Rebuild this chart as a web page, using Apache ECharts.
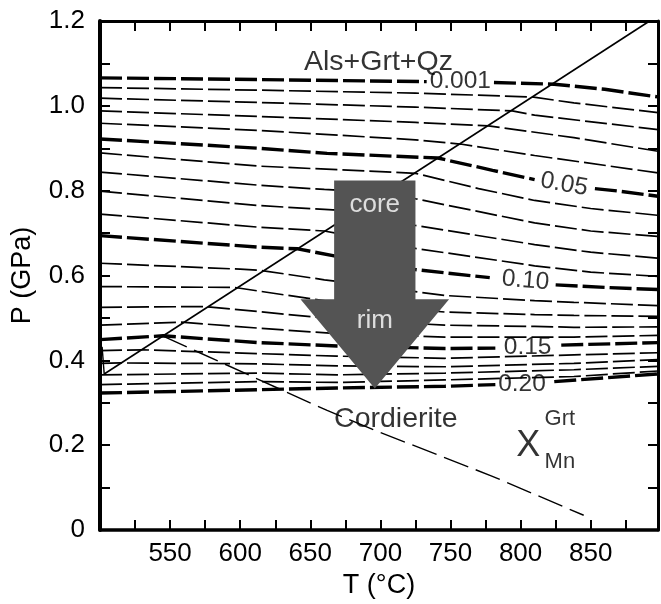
<!DOCTYPE html>
<html>
<head>
<meta charset="utf-8">
<script src="https://cdn.jsdelivr.net/npm/echarts@6/dist/echarts.min.js"></script>
<style>html,body{margin:0;padding:0;background:#fff}#c{width:661px;height:604px}</style>
</head>
<body>
<div id="c"></div>
<script>
// ---- Data: X_Mn(Grt) isopleths, P (GPa) vs T (°C); null = gap for label ----
const iso_0_001 = [[500,1.066],[613,1.062],[733,1.057],null,[781,1.055],[824,1.051],[860,1.039],[898,1.021]];
const iso_0_01  = [[500,1.043],[613,1.037],[725,1.030],[808,1.021],[838,1.007],[898,0.984]];
const iso_0_02  = [[500,1.018],[613,1.008],[725,0.997],[794,0.988],[810,0.978],[898,0.944]];
const iso_0_03  = [[500,0.988],[613,0.975],[725,0.961],[777,0.953],[838,0.925],[898,0.893]];
const iso_0_04  = [[500,0.959],[613,0.942],[725,0.920],[757,0.910],[810,0.883],[898,0.842]];
const iso_0_05  = [[500,0.922],[613,0.900],[662,0.888],[741,0.877],[780,0.848],[810,0.826],null,[853,0.805],[870,0.799],[898,0.787]];
const iso_0_06  = [[500,0.889],[613,0.858],[725,0.841],[770,0.805],[810,0.777],[850,0.758],[898,0.742]];
const iso_0_07  = [[500,0.844],[613,0.813],[660,0.803],[705,0.795],[725,0.781],[810,0.724],[850,0.705],[898,0.692]];
const iso_0_08  = [[500,0.799],[613,0.765],[660,0.756],[682,0.752],[725,0.718],[810,0.673],[850,0.655],[898,0.641]];
const iso_0_09  = [[500,0.745],[613,0.714],[660,0.705],[725,0.664],[810,0.623],[850,0.608],[898,0.598]];
const iso_0_10  = [[500,0.694],[613,0.667],[641,0.663],[680,0.638],[725,0.614],[778,0.595],null,[825,0.578],[860,0.572],[898,0.567]];
const iso_0_11  = [[500,0.629],[600,0.615],[615,0.612],[660,0.590],[746,0.553],[810,0.541],[838,0.537],[898,0.529]];
const iso_0_12  = [[500,0.574],[596,0.572],[669,0.536],[746,0.514],[810,0.508],[838,0.506],[898,0.504]];
const iso_0_13  = [[500,0.525],[575,0.527],[613,0.515],[669,0.497],[746,0.483],[810,0.480],[838,0.478],[898,0.479]];
const iso_0_14  = [[500,0.483],[558,0.490],[613,0.476],[669,0.463],[746,0.455],[838,0.455],[898,0.459]];
const iso_0_15  = [[500,0.449],[545,0.458],[613,0.442],[669,0.434],[746,0.428],[782,0.429],null,[829,0.436],[898,0.442]];
const iso_0_16  = [[500,0.423],[530,0.425],[613,0.416],[669,0.410],[746,0.405],[838,0.413],[898,0.418]];
const iso_0_17  = [[500,0.393],[515,0.394],[613,0.392],[669,0.387],[746,0.385],[838,0.393],[898,0.402]];
const iso_0_18  = [[500,0.366],[613,0.370],[669,0.366],[746,0.370],[838,0.378],[898,0.386]];
const iso_0_19  = [[500,0.343],[613,0.350],[669,0.348],[746,0.354],[838,0.362],[898,0.375]];
const iso_0_20  = [[500,0.323],[613,0.331],[669,0.335],[746,0.339],[782,0.343],null,[824,0.350],[898,0.368]];

const thinIsopleths  = [iso_0_01, iso_0_02, iso_0_03, iso_0_04, iso_0_06, iso_0_07, iso_0_08, iso_0_09,
                        iso_0_11, iso_0_12, iso_0_13, iso_0_14, iso_0_16, iso_0_17, iso_0_18, iso_0_19];
const thickIsopleths = [iso_0_001, iso_0_05, iso_0_10, iso_0_15, iso_0_20];

// reaction lines
const alsCrdBoundary = [[503,0.368],[892,1.2]];
const smallBoundary  = [[501.5,0.432],[503,0.368]];
const cordieriteLine = [[545,0.457],[662,0.282],[697,0.234],[779,0.128],[845,0.035]];

// core -> rim arrow outline (T, P)
const arrowT = [667, 725, 725, 749, 696, 643, 667];
const arrowP = [0.824, 0.824, 0.544, 0.544, 0.334, 0.544, 0.544];

// text annotations
const noteText = ['Als+Grt+Qz', 'Cordierite', '0.001', '0.15', '0.20'];
const noteT    = [698.6, 711, 757, 805, 801];
const noteP    = [1.104, 0.261, 1.058, 0.430, 0.343];
const rotNoteText = ['0.05', '0.10'];
const rotNoteT    = [831, 803.5];
const rotNoteP    = [0.815, 0.588];
const rotNoteRot  = [-10, -5];
const arrowText = ['core', 'rim'];
const arrowTextT = [696, 696];
const arrowTextP = [0.766, 0.493];
const symText = ['X', 'Grt', 'Mn'];
const symT = [805.5, 828, 828];
const symP = [0.199, 0.262, 0.160];
const symSize = [36, 22, 22];

// axis ticks
const xMin = 500, xMax = 898, xStep = 25;
const yMin = 0, yMax = 1.2, yStep = 0.1;

const FONT = '"Liberation Sans", Arial, Helvetica, sans-serif';

function splitSegments(arr) {
  const segs = []; let cur = [];
  arr.forEach(p => { if (p === null) { if (cur.length) segs.push(cur); cur = []; } else cur.push(p); });
  if (cur.length) segs.push(cur);
  return segs;
}
const series = [];
function addLine(data, width, dash, z) {
  splitSegments(data).forEach(seg => series.push({
    type: 'line', data: seg, showSymbol: false, symbol: 'none', z: z || 2, silent: true,
    lineStyle: { color: '#000', width: width, type: dash, cap: 'butt' }
  }));
}
thinIsopleths.forEach(d => addLine(d, 1.7, [22, 5]));
thickIsopleths.forEach(d => addLine(d, 3.4, [22, 5]));
addLine(alsCrdBoundary, 1.6, 'solid', 3);
addLine(smallBoundary, 1.4, 'solid', 3);
addLine(cordieriteLine, 1.4, [26, 8], 3);

series.push({
  type: 'custom', z: 10, silent: true, clip: false,
  data: [[arrowT[0], arrowP[0]]],
  renderItem: (params, api) => ({
    type: 'polygon',
    shape: { points: arrowT.map((t, i) => api.coord([t, arrowP[i]])) },
    style: { fill: '#545454' }
  })
});

function labelSeries(texts, ts, ps, opts) {
  return {
    type: 'scatter', symbolSize: 0, z: 20, silent: true,
    data: texts.map((t, i) => ({
      value: [ts[i], ps[i]], name: t,
      label: Object.assign({ show: true, position: 'inside', formatter: t, color: '#000',
        fontFamily: FONT, fontSize: 25 }, opts ? opts(i) : {})
    }))
  };
}
series.push(labelSeries(noteText, noteT, noteP, i => ({ fontSize: i < 2 ? 28.5 : 24.5 })));
series.push(labelSeries(rotNoteText, rotNoteT, rotNoteP, i => ({ fontSize: 24.5, rotate: rotNoteRot[i] })));
series.push(labelSeries(arrowText, arrowTextT, arrowTextP, () => ({ color: '#fff', fontSize: 26 })));
series.push(labelSeries(symText, symT, symP, i => ({ fontSize: symSize[i] })));

const axisLineStyle = w => ({ show: true, onZero: false, lineStyle: { color: '#000', width: w } });
const tickStyle = { show: true, inside: true, length: 10, lineStyle: { color: '#000', width: 2 } };

const chart = echarts.init(document.getElementById('c'), null, { renderer: 'canvas' });
chart.setOption({
  animation: false,
  backgroundColor: '#fff',
  grid: { left: 100, right: -4, top: 21, bottom: 69, containLabel: false },
  xAxis: [
    { type: 'value', min: xMin, max: xMax, interval: xStep, position: 'bottom',
      axisLine: axisLineStyle(3.5), axisTick: tickStyle, splitLine: { show: false },
      axisLabel: { color: '#000', fontFamily: FONT, fontSize: 26, margin: 11,
        formatter: v => (v % 50 === 0 && v > 500 && v < 900) ? String(v) : '' },
      name: 'T (°C)', nameLocation: 'middle', nameGap: 40,
      nameTextStyle: { color: '#000', fontFamily: FONT, fontSize: 27 } },
    { type: 'value', min: xMin, max: xMax, interval: xStep, position: 'top',
      axisLine: axisLineStyle(3), axisTick: tickStyle, splitLine: { show: false },
      axisLabel: { show: false } }
  ],
  yAxis: [
    { type: 'value', min: yMin, max: yMax, interval: yStep, position: 'left',
      axisLine: axisLineStyle(4), axisTick: tickStyle, splitLine: { show: false },
      axisLabel: { color: '#000', fontFamily: FONT, fontSize: 26, margin: 15,
        formatter: v => { const k = Math.round(v * 10); return k % 2 === 0 ? (k === 0 ? '0' : (k / 10).toFixed(1)) : ''; } },
      name: 'P (GPa)', nameLocation: 'middle', nameGap: 64, nameRotate: 90,
      nameTextStyle: { color: '#000', fontFamily: FONT, fontSize: 27 } },
    { type: 'value', min: yMin, max: yMax, interval: yStep, position: 'right',
      axisLine: axisLineStyle(3), axisTick: tickStyle, splitLine: { show: false },
      axisLabel: { show: false } }
  ],
  series: series
});
</script>
</body>
</html>
